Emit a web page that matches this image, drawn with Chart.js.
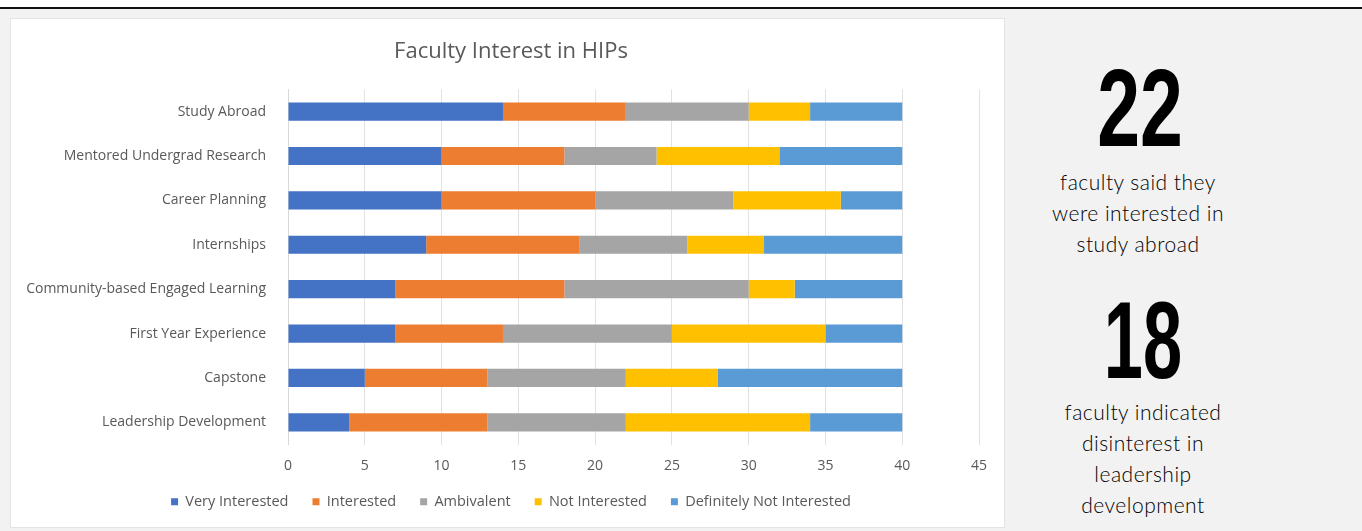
<!DOCTYPE html>
<html>
<head>
<meta charset="utf-8">
<script src="https://cdn.jsdelivr.net/npm/chart.js@4.4.0/dist/chart.umd.min.js"></script>
<style>
  html, body { margin: 0; padding: 0; }
  body { width: 1362px; height: 531px; background: #f2f2f2; position: relative; overflow: hidden; font-family: 'Lato', sans-serif; }
  .topband { position: absolute; left: 0; top: 0; width: 1362px; height: 7px; background: #fff; }
  .rule { position: absolute; left: 0; top: 7px; width: 1362px; height: 2px; background: #111; }
  .panel { position: absolute; left: 10px; top: 18px; width: 993px; height: 508px; background: #fff; border: 1px solid #e3e3e3; }
  #chart { position: absolute; left: 0; top: 0; }
  .big { position: absolute; width: 200px; text-align: center; font-family: 'Liberation Sans', 'Roboto', sans-serif; font-weight: bold; font-size: 110px; line-height: 1; color: #000; transform: scaleX(0.7); transform-origin: center; }
  .note { position: absolute; width: 260px; text-align: center; font-size: 21px; font-weight: 300; letter-spacing: 0.5px; line-height: 31px; color: #000; }
</style>
</head>
<body>
<div class="topband"></div>
<div class="rule"></div>
<div class="panel"><canvas id="chart" width="993" height="508"></canvas></div>

<div class="big" style="left:1040px; top:53px;">22</div>
<div class="note" style="left:1008px; top:166px;">faculty said they<br>were interested in<br>study abroad</div>
<div class="big" style="left:1043px; top:285px; transform: scaleX(0.64);">18</div>
<div class="note" style="left:1013px; top:396px;">faculty indicated<br>disinterest in<br>leadership<br>development</div>

<script>
// categories, top to bottom
const categories = ['Study Abroad', 'Mentored Undergrad Research', 'Career Planning', 'Internships',
  'Community-based Engaged Learning', 'First Year Experience', 'Capstone', 'Leadership Development'];

// responses per HIP (faculty counts)
const veryInterested = [14, 10, 10, 9, 7, 7, 5, 4];
const interested = [8, 8, 10, 10, 11, 7, 8, 9];
const ambivalent = [8, 6, 9, 7, 12, 11, 9, 9];
const notInterested = [4, 8, 7, 5, 3, 10, 6, 12];
const definitelyNot = [6, 8, 4, 9, 7, 5, 12, 6];

const seriesNames = ['Very Interested', 'Interested', 'Ambivalent', 'Not Interested', 'Definitely Not Interested'];
const seriesColors = ['#4472C4', '#ED7D31', '#A5A5A5', '#FFC000', '#5B9BD5'];
const seriesValues = [veryInterested, interested, ambivalent, notInterested, definitelyNot];

const xMax = 45;
const xStep = 5;

const textGray = '#595959';
const labelFont = "'Open Sans', sans-serif";

const datasets = seriesNames.map((name, i) => ({
    label: name,
    data: seriesValues[i],
    backgroundColor: seriesColors[i],
    borderWidth: 0,
    barPercentage: 0.41,
    categoryPercentage: 1
}));

// let the long category labels run into the left padding instead of being clipped
const widenLabelArea = {
    id: 'widenLabelArea',
    afterLayout(chart) { chart.scales.y.left = 0; }
};

new Chart(document.getElementById('chart'), {
    type: 'bar',
    data: { labels: categories, datasets: datasets },
    plugins: [widenLabelArea],
    options: {
        indexAxis: 'y',
        responsive: false,
        animation: false,
        layout: { padding: { top: 18, right: 25, bottom: 8, left: 32 } },
        plugins: {
            title: {
                display: true,
                text: 'Faculty Interest in HIPs',
                color: textGray,
                font: { family: labelFont, size: 22, weight: 'normal' },
                padding: { top: 2, bottom: 24 }
            },
            legend: {
                position: 'bottom',
                labels: {
                    color: textGray,
                    font: { family: labelFont, size: 14.5 },
                    boxWidth: 7,
                    boxHeight: 7,
                    padding: 24
                }
            },
            tooltip: { enabled: false }
        },
        scales: {
            x: {
                stacked: true,
                min: 0,
                max: xMax,
                afterFit: function (scale) { scale.height = 26; },
                ticks: { stepSize: xStep, color: textGray, font: { family: labelFont, size: 14 }, padding: 13 },
                grid: { color: '#e2e2e2', drawTicks: false },
                border: { display: false }
            },
            y: {
                stacked: true,
                afterFit: function (scale) { scale.width = 245; },
                ticks: { color: textGray, font: { family: labelFont, size: 14 }, padding: 14 },
                grid: { display: false },
                border: { color: '#d9d9d9' }
            }
        }
    }
});
</script>
</body>
</html>
